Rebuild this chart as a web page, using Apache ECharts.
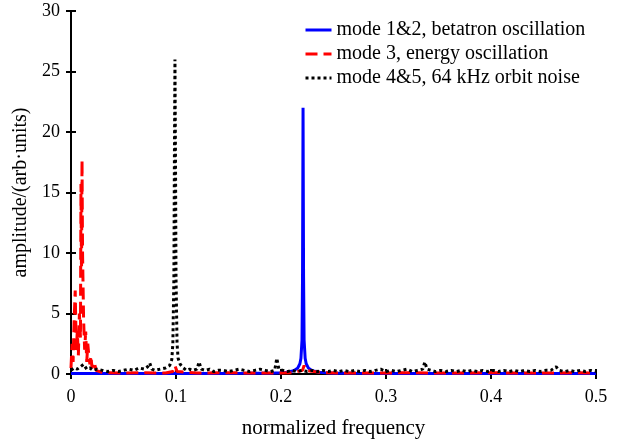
<!DOCTYPE html>
<html><head><meta charset="utf-8">
<script src="https://cdn.jsdelivr.net/npm/echarts@6/dist/echarts.min.js"></script>
<style>html,body{margin:0;padding:0;background:#fff}#c{width:621px;height:444px}</style>
</head><body><div id="c"></div>
<script>
const xTicks = [0, 0.1, 0.2, 0.3, 0.4, 0.5];
const yTicks = [0, 5, 10, 15, 20, 25, 30];
const seriesNames = ['mode 1&2, betatron oscillation', 'mode 3, energy oscillation', 'mode 4&5, 64 kHz orbit noise'];

const betatron = [
  [0,0.05],[0.02,0.04],[0.05,0.05],[0.08,0.04],[0.11,0.05],[0.14,0.05],[0.17,0.06],[0.19,0.07],
  [0.2,0.1],[0.205,0.14],[0.21,0.22],[0.213,0.32],[0.216,0.5],[0.218,0.85],[0.219,1.3],[0.22,2.8],
  [0.2205,8],[0.221,22],[0.2215,8],[0.222,2.8],[0.223,1.3],[0.224,0.85],[0.226,0.5],[0.229,0.32],
  [0.232,0.22],[0.237,0.14],[0.242,0.1],[0.25,0.07],[0.27,0.06],[0.3,0.05],[0.35,0.05],[0.4,0.04],[0.45,0.05],[0.5,0.04]
];

const energy = [
  [0,0.5],[0.001,2.5],[0.002,1.0],[0.003,4.5],[0.004,6.9],[0.005,2.0],[0.006,3.5],[0.007,1.5],
  [0.008,5.0],[0.009,3.0],[0.0095,15.7],[0.01,8],[0.0105,17.7],[0.011,10],[0.012,4.5],[0.013,2.0],
  [0.014,3.5],[0.015,1.0],[0.016,2.5],[0.017,1.5],[0.018,0.8],[0.019,1.5],[0.02,0.5],[0.022,1.0],
  [0.024,0.3],[0.03,0.1],[0.05,0.08],[0.07,0.1],[0.09,0.08],[0.097,0.2],[0.099,0.7],[0.101,0.2],
  [0.12,0.08],[0.15,0.1],[0.18,0.08],[0.21,0.1],[0.2205,0.3],[0.222,0.7],[0.2235,0.3],[0.24,0.1],
  [0.28,0.08],[0.32,0.1],[0.36,0.08],[0.4,0.1],[0.44,0.08],[0.48,0.1],[0.5,0.08]
];

const orbitNoise = [
  [0,0.3],[0.003,0.5],[0.006,0.4],[0.009,0.6],[0.012,0.8],[0.015,0.4],[0.018,0.5],[0.021,0.3],
  [0.025,0.4],[0.03,0.3],[0.035,0.2],[0.04,0.3],[0.045,0.2],[0.05,0.3],[0.055,0.4],[0.06,0.3],
  [0.065,0.5],[0.07,0.4],[0.073,0.6],[0.075,0.9],[0.077,0.4],[0.08,0.3],[0.085,0.4],[0.09,0.5],
  [0.094,0.7],[0.096,1.2],[0.097,2.5],[0.098,8],[0.0985,18],[0.099,26],[0.0995,18],[0.1,8],
  [0.101,2.5],[0.102,1.3],[0.104,0.8],[0.107,0.5],[0.11,0.3],[0.113,0.4],[0.116,0.3],[0.12,0.4],
  [0.122,1.0],[0.124,0.4],[0.128,0.3],[0.132,0.4],[0.136,0.2],[0.14,0.3],[0.145,0.3],[0.15,0.2],
  [0.155,0.3],[0.16,0.4],[0.165,0.3],[0.17,0.2],[0.175,0.3],[0.18,0.4],[0.185,0.3],[0.19,0.2],
  [0.194,0.3],[0.196,1.3],[0.198,0.4],[0.202,0.3],[0.206,0.2],[0.21,0.3],[0.215,0.2],[0.22,0.3],
  [0.225,0.2],[0.23,0.3],[0.235,0.2],[0.24,0.3],[0.245,0.2],[0.25,0.3],[0.255,0.2],[0.26,0.3],
  [0.265,0.2],[0.27,0.3],[0.275,0.2],[0.28,0.3],[0.285,0.2],[0.29,0.3],[0.295,0.4],[0.3,0.2],
  [0.305,0.3],[0.31,0.2],[0.315,0.3],[0.32,0.4],[0.325,0.2],[0.33,0.3],[0.335,0.4],[0.337,1.0],
  [0.339,0.4],[0.343,0.3],[0.347,0.2],[0.352,0.3],[0.357,0.2],[0.362,0.3],[0.367,0.2],[0.372,0.3],
  [0.377,0.2],[0.382,0.3],[0.387,0.2],[0.392,0.3],[0.397,0.2],[0.402,0.3],[0.407,0.2],[0.412,0.3],
  [0.417,0.2],[0.422,0.3],[0.427,0.2],[0.432,0.3],[0.437,0.2],[0.442,0.3],[0.447,0.2],[0.452,0.3],
  [0.457,0.3],[0.462,0.6],[0.465,0.3],[0.47,0.2],[0.475,0.3],[0.48,0.2],[0.485,0.3],[0.49,0.2],
  [0.495,0.3],[0.5,0.2]
];

const FONT = '"Liberation Serif", "Times New Roman", serif';
const chart = echarts.init(document.getElementById('c'), null, {renderer: 'canvas'});
const axisCommon = {
  axisLine: {show: true, lineStyle: {color: '#000', width: 2}},
  axisTick: {show: true, inside: true, length: 5, lineStyle: {color: '#000', width: 2}},
  splitLine: {show: false}
};
chart.setOption({
  animation: false,
  grid: {left: 71, right: 25, top: 11, bottom: 67},
  legend: {
    orient: 'vertical', left: 299, top: 15, itemWidth: 26, itemHeight: 14, itemGap: 4,
    itemStyle: {opacity: 0},
    lineStyle: {width: 3},
    textStyle: {fontFamily: FONT, fontSize: 20, color: '#000'},
    data: seriesNames
  },
  xAxis: [
    Object.assign({
      type: 'value', min: xTicks[0], max: xTicks[xTicks.length-1], interval: 0.1,
      name: 'normalized frequency', nameLocation: 'middle', nameGap: 44,
      nameTextStyle: {fontFamily: FONT, fontSize: 21, color: '#000'},
      axisLabel: {fontFamily: FONT, fontSize: 18, color: '#000', margin: 14,
        formatter: v => String(Math.round(v*10)/10)}
    }, axisCommon),
    Object.assign({
      type: 'value', position: 'top', min: 0, max: 0.5, interval: 0.1, axisLabel: {show: false}
    }, axisCommon)
  ],
  yAxis: [
    Object.assign({
      type: 'value', min: yTicks[0], max: yTicks[yTicks.length-1], interval: 5,
      name: 'amplitude/(arb·units)', nameLocation: 'middle', nameGap: 40,
      nameTextStyle: {fontFamily: FONT, fontSize: 20, color: '#000'},
      axisLabel: {fontFamily: FONT, fontSize: 18, color: '#000', margin: 11}
    }, axisCommon),
    Object.assign({
      type: 'value', position: 'right', min: 0, max: 30, interval: 5, axisLabel: {show: false}
    }, axisCommon)
  ],
  series: [
    {name: seriesNames[0], type: 'line', data: betatron, symbol: 'none', z: 2,
     lineStyle: {color: '#0000ff', width: 3}, itemStyle: {color: '#0000ff'}},
    {name: seriesNames[1], type: 'line', data: energy, symbol: 'none', z: 3,
     lineStyle: {color: '#ff0000', width: 3, type: [12, 6]}, itemStyle: {color: '#ff0000'}},
    {name: seriesNames[2], type: 'line', data: orbitNoise, symbol: 'none', z: 4,
     lineStyle: {color: '#000', width: 3, type: [3, 3]}, itemStyle: {color: '#000'}}
  ]
});
</script></body></html>
